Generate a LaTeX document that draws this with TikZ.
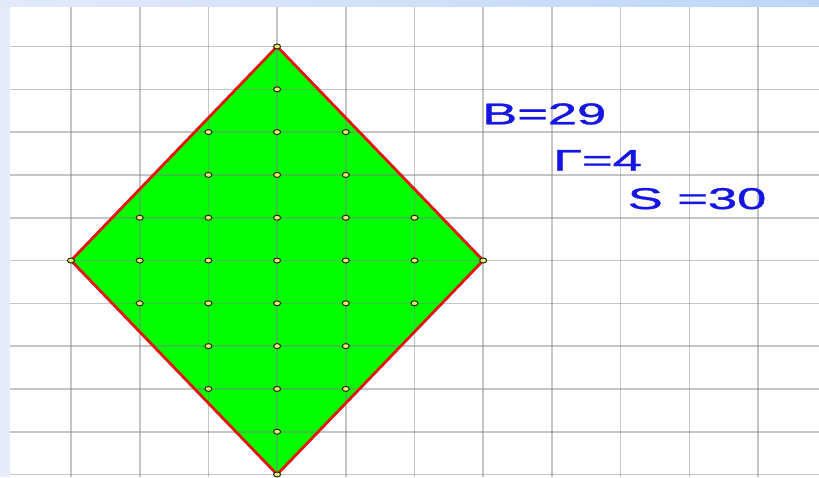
\documentclass[tikz,border=0pt]{standalone}
\usepackage{fontspec}
\setmainfont{Liberation Sans}
\usetikzlibrary{shapes.geometric}
\definecolor{bandL}{RGB}{230,235,252}
\definecolor{bandTa}{RGB}{226,233,251}
\definecolor{bandTb}{RGB}{188,214,250}
\definecolor{gridc}{RGB}{128,128,128}
\definecolor{polyfill}{RGB}{0,255,0}
\definecolor{edgec}{RGB}{228,22,18}
\definecolor{txtc}{RGB}{22,22,228}
\definecolor{dotfill}{RGB}{238,236,110}
\definecolor{dotline}{RGB}{40,40,20}
\tikzset{
  gridline/.style={draw=gridc, draw opacity=0.45, line width=1.6pt},
  edgeline/.style={draw=edgec, line width=2.8pt, line join=miter},
  latticedot/.style={ellipse, draw=dotline, fill=dotfill, line width=1pt,
    minimum width=7pt, minimum height=5pt, inner sep=0pt},
  valtext/.style={text=txtc, inner sep=0pt, anchor=base west,
    font=\fontsize{30}{30}\selectfont\addfontfeature{FakeBold=1}}
}
\begin{document}
\begin{tikzpicture}[x=1pt,y=-1pt]
\useasboundingbox (0,0) rectangle (819,477);
% background bands
\fill[bandL] (0,0) rectangle (10,477);
\shade[left color=bandTa,right color=bandTb] (0,0) rectangle (819,7);
\fill[white] (10,7) rectangle (819,477);
% lattice frame
\begin{scope}[shift={(71pt,-46.5pt)}, x=68.7pt, y=-42.8pt]
  \coordinate (L) at (0,5);
  \coordinate (T) at (3,0);
  \coordinate (R) at (6,5);
  \coordinate (B) at (3,10);
  \foreach \c/\lo/\hi in {1/4/6, 2/2/8, 3/1/9, 4/2/8, 5/4/6}
    \foreach \r in {\lo,...,\hi}
      \coordinate (p\c-\r) at (\c,\r);
\end{scope}
% green polygon
\fill[polyfill] (L) -- (T) -- (R) -- (B) -- cycle;
% grid
\begin{scope}
  \clip (10,7) rectangle (819,477);
  \foreach \i in {-1,...,11}
    \draw[gridline] ({71+68.7*\i},7) -- ({71+68.7*\i},477);
  \foreach \j in {-1,...,10}
    \draw[gridline] (10,{46.5+42.8*\j}) -- (819,{46.5+42.8*\j});
\end{scope}
% red boundary
\draw[edgeline] (L) -- (T) -- (R) -- (B) -- cycle;
% dots
\foreach \v in {L,T,R,B}
  \node[latticedot] (d\v) at (\v) {};
\foreach \c/\lo/\hi in {1/4/6, 2/2/8, 3/1/9, 4/2/8, 5/4/6}
  \foreach \r in {\lo,...,\hi}
    \node[latticedot] (q\c-\r) at (p\c-\r) {};
% texts
\node[valtext] (tB) at (482,124.3) {\scalebox{1.75}[1]{B=29}};
\node[valtext] (tG) at (553,170.7) {\scalebox{1.75}[1]{Γ=4}};
\node[valtext] (tS) at (627.5,209) {\scalebox{1.75}[1]{S =30}};
\end{tikzpicture}
\end{document}
